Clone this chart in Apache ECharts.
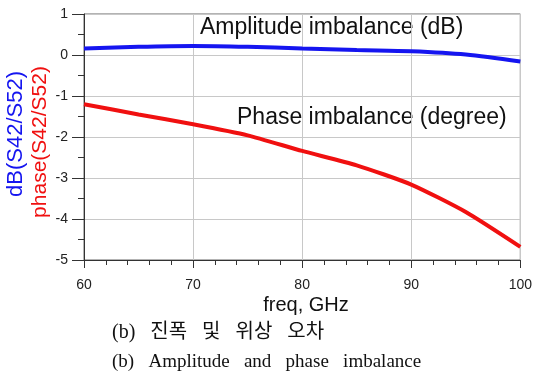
<!DOCTYPE html>
<html>
<head>
<meta charset="utf-8">
<script src="https://cdn.jsdelivr.net/npm/echarts@6/dist/echarts.min.js"></script>
<style>
  html, body { margin: 0; padding: 0; background: #fff; }
  #chart { width: 535px; height: 381px; }
</style>
</head>
<body>
<div id="chart"></div>
<script>
// frequency points (GHz)
const freq = [60, 65, 70, 75, 80, 85, 90, 95, 100]
// amplitude imbalance, dB
const ampDb = [0.16, 0.2, 0.22, 0.2, 0.16, 0.12, 0.09, 0.01, -0.16]
// phase imbalance, degree
const phaseDeg = [-1.2, -1.45, -1.69, -1.96, -2.34, -2.69, -3.16, -3.83, -4.68]

const chart = echarts.init(document.getElementById('chart'))

const sans = 'Liberation Sans, Arial, sans-serif'
const serif = 'Liberation Serif, Times New Roman, Noto Sans CJK KR, serif'

const option = {
  animation: false,
  grid: { left: 84, right: 11, top: 14, bottom: 121, show: true, borderColor: '#666', borderWidth: 1 },
  xAxis: {
    type: 'value',
    min: 60,
    max: 100,
    interval: 10,
    axisLine: { show: true, onZero: false, lineStyle: { color: '#333', width: 1 } },
    axisTick: { show: true, length: 8, lineStyle: { color: '#333' } },
    minorTick: { show: true, splitNumber: 5, length: 5, lineStyle: { color: '#333' } },
    splitLine: { show: true, lineStyle: { color: '#c8c8c8', width: 1 } },
    axisLabel: { color: '#222', fontSize: 14, fontFamily: sans, margin: 18 }
  },
  yAxis: {
    type: 'value',
    min: -5,
    max: 1,
    interval: 1,
    axisLine: { show: true, onZero: false, lineStyle: { color: '#333', width: 1 } },
    axisTick: { show: true, length: 12, lineStyle: { color: '#333' } },
    minorTick: { show: true, splitNumber: 2, length: 6, lineStyle: { color: '#333' } },
    splitLine: { show: true, lineStyle: { color: '#c8c8c8', width: 1 } },
    axisLabel: { color: '#222', fontSize: 14, fontFamily: sans, margin: 16 }
  },
  series: [
    {
      name: 'dB(S42/S52)',
      type: 'line',
      data: freq.map((f, i) => [f, ampDb[i]]),
      smooth: 0.3,
      symbol: 'none',
      lineStyle: { color: '#1515f0', width: 4 }
    },
    {
      name: 'phase(S42/S52)',
      type: 'line',
      data: freq.map((f, i) => [f, phaseDeg[i]]),
      smooth: 0.2,
      symbol: 'none',
      lineStyle: { color: '#f01010', width: 4 }
    }
  ],
  graphic: [
    { type: 'text', x: 200, y: 28, style: { text: 'Amplitude imbalance (dB)', font: '23px ' + sans, fill: '#111', verticalAlign: 'middle' } },
    { type: 'text', x: 237, y: 118, style: { text: 'Phase imbalance (degree)', font: '23px ' + sans, fill: '#111', verticalAlign: 'middle' } },
    { type: 'text', x: 16, y: 134, rotation: Math.PI / 2, style: { text: 'dB(S42/S52)', font: '22px ' + sans, fill: '#1515f0', align: 'center', verticalAlign: 'middle' } },
    { type: 'text', x: 40, y: 142, rotation: Math.PI / 2, style: { text: 'phase(S42/S52)', font: '21px ' + sans, fill: '#f01010', align: 'center', verticalAlign: 'middle' } },
    { type: 'text', x: 306, y: 305, style: { text: 'freq, GHz', font: '20px ' + sans, fill: '#111', align: 'center', verticalAlign: 'middle' } },
    { type: 'text', x: 112, y: 333, style: { text: '(b)   진폭   및   위상   오차', font: '20px ' + serif, fill: '#111', verticalAlign: 'middle' } },
    { type: 'text', x: 112, y: 362, style: { text: '(b)   Amplitude   and   phase   imbalance', font: '19px ' + serif, fill: '#111', verticalAlign: 'middle' } }
  ]
}

chart.setOption(option)
</script>
</body>
</html>
